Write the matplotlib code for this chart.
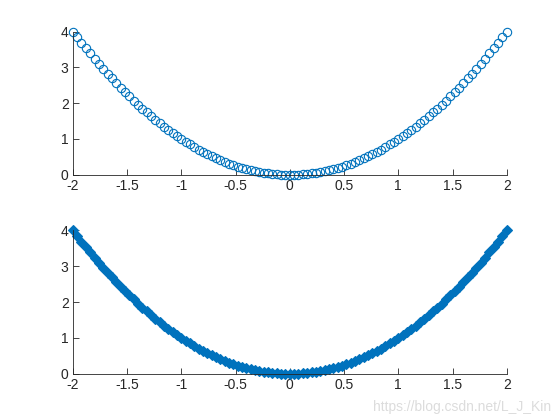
import matplotlib.pyplot as plt

# === DATA ===
x = [-2.00, -1.96, -1.92, -1.88, -1.84, -1.80, -1.76, -1.72, -1.68, -1.64,
     -1.60, -1.56, -1.52, -1.48, -1.44, -1.40, -1.36, -1.32, -1.28, -1.24,
     -1.20, -1.16, -1.12, -1.08, -1.04, -1.00, -0.96, -0.92, -0.88, -0.84,
     -0.80, -0.76, -0.72, -0.68, -0.64, -0.60, -0.56, -0.52, -0.48, -0.44,
     -0.40, -0.36, -0.32, -0.28, -0.24, -0.20, -0.16, -0.12, -0.08, -0.04,
     0.00,
     0.04, 0.08, 0.12, 0.16, 0.20, 0.24, 0.28, 0.32, 0.36, 0.40,
     0.44, 0.48, 0.52, 0.56, 0.60, 0.64, 0.68, 0.72, 0.76, 0.80,
     0.84, 0.88, 0.92, 0.96, 1.00, 1.04, 1.08, 1.12, 1.16, 1.20,
     1.24, 1.28, 1.32, 1.36, 1.40, 1.44, 1.48, 1.52, 1.56, 1.60,
     1.64, 1.68, 1.72, 1.76, 1.80, 1.84, 1.88, 1.92, 1.96, 2.00]
y = [4.000, 3.842, 3.686, 3.534, 3.386, 3.240, 3.098, 2.958, 2.822, 2.690,
     2.560, 2.434, 2.310, 2.190, 2.074, 1.960, 1.850, 1.742, 1.638, 1.538,
     1.440, 1.346, 1.254, 1.166, 1.082, 1.000, 0.922, 0.846, 0.774, 0.706,
     0.640, 0.578, 0.518, 0.462, 0.410, 0.360, 0.314, 0.270, 0.230, 0.194,
     0.160, 0.130, 0.102, 0.078, 0.058, 0.040, 0.026, 0.014, 0.006, 0.002,
     0.000,
     0.002, 0.006, 0.014, 0.026, 0.040, 0.058, 0.078, 0.102, 0.130, 0.160,
     0.194, 0.230, 0.270, 0.314, 0.360, 0.410, 0.462, 0.518, 0.578, 0.640,
     0.706, 0.774, 0.846, 0.922, 1.000, 1.082, 1.166, 1.254, 1.346, 1.440,
     1.538, 1.638, 1.742, 1.850, 1.960, 2.074, 2.190, 2.310, 2.434, 2.560,
     2.690, 2.822, 2.958, 3.098, 3.240, 3.386, 3.534, 3.686, 3.842, 4.000]
xticks = [-2, -1.5, -1, -0.5, 0, 0.5, 1, 1.5, 2]
xticklabels = ["-2", "-1.5", "-1", "-0.5", "0", "0.5", "1", "1.5", "2"]
yticks = [0, 1, 2, 3, 4]

BLUE = "#0072BD"
TXT = "#262626"

plt.rcParams['font.family'] = ['Liberation Sans', 'DejaVu Sans']

fig = plt.figure(figsize=(5.6, 4.2), dpi=100)
ax1 = fig.add_axes([0.13, 0.5838, 0.775, 0.3412])
ax2 = fig.add_axes([0.13, 0.11, 0.775, 0.3412])

ax1.plot(x, y, linestyle='none', marker='o', markersize=6, clip_on=False,
         markerfacecolor='none', markeredgecolor=BLUE, markeredgewidth=0.8)
ax2.plot(x, y, linestyle='none', marker='D', markersize=5, clip_on=False,
         markerfacecolor=BLUE, markeredgecolor=BLUE, markeredgewidth=0.8)

for ax in (ax1, ax2):
    ax.set_xlim(-2, 2)
    ax.set_ylim(0, 4)
    ax.set_xticks(xticks)
    ax.set_xticklabels(xticklabels)
    ax.set_yticks(yticks)
    ax.spines['top'].set_visible(False)
    ax.spines['right'].set_visible(False)
    for s in ('left', 'bottom'):
        ax.spines[s].set_color(TXT)
        ax.spines[s].set_linewidth(0.6)
    ax.tick_params(direction='in', length=4, width=0.6, colors=TXT,
                   labelsize=10, pad=3)

fig.text(0.985, 0.015, "https://blog.csdn.net/L_J_Kin", ha='right', va='bottom',
         fontsize=10, color='#dcdcdc')

fig.savefig("out.png", dpi=100)
